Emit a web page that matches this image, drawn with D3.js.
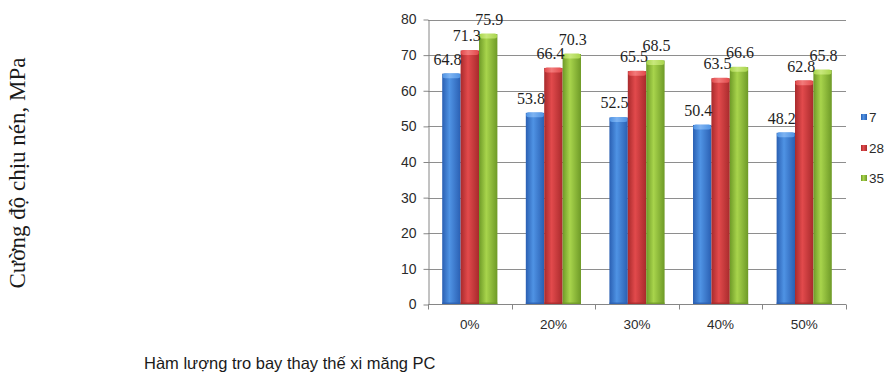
<!DOCTYPE html>
<html>
<head>
<meta charset="utf-8">
<script src="https://cdn.jsdelivr.net/npm/d3@7/dist/d3.min.js"></script>
<style>
  html, body { margin: 0; padding: 0; background: #ffffff; }
  svg { display: block; }
</style>
</head>
<body>
<svg id="chart" width="886" height="376"></svg>
<script>
// Compressive strength of concrete by fly-ash replacement level, at 7, 28 and 35 days
const categories = ["0%", "20%", "30%", "40%", "50%"];
const seriesNames = ["7", "28", "35"];
const day7  = [64.8, 53.8, 52.5, 50.4, 48.2];
const day28 = [71.3, 66.4, 65.5, 63.5, 62.8];
const day35 = [75.9, 70.3, 68.5, 66.6, 65.8];
const yTicks = [0, 10, 20, 30, 40, 50, 60, 70, 80];
const yTitle = "Cường độ chịu nén, MPa";
const xTitle = "Hàm lượng tro bay thay thế xi măng PC";

const seriesValues = [day7, day28, day35];

// Shading for the cylinder-like bars: dark edge, light core, dark edge
const palettes = [
  { edge: "#2a5fb2", mid: "#4f93e4", cap: "#7db3f2", legend: "#3a78cf" },
  { edge: "#a82a2c", mid: "#e24a4c", cap: "#f27a7a", legend: "#c93a3b" },
  { edge: "#6e9a27", mid: "#a8d44c", cap: "#c8e87c", legend: "#8cbb3a" }
];
const labelShift = [-4, -3, 1];

const svg = d3.select("#chart");
const plot = { left: 428, right: 846, top: 19.5, bottom: 304.5 };

const defs = svg.append("defs");
palettes.forEach((p, i) => {
  const g = defs.append("linearGradient").attr("id", "bar" + i)
    .attr("x1", "0%").attr("x2", "100%").attr("y1", "0%").attr("y2", "0%");
  g.append("stop").attr("offset", "0%").attr("stop-color", p.edge);
  g.append("stop").attr("offset", "40%").attr("stop-color", p.mid);
  g.append("stop").attr("offset", "100%").attr("stop-color", p.edge);
  const c = defs.append("linearGradient").attr("id", "cap" + i)
    .attr("x1", "0%").attr("x2", "100%").attr("y1", "0%").attr("y2", "0%");
  c.append("stop").attr("offset", "0%").attr("stop-color", p.mid);
  c.append("stop").attr("offset", "40%").attr("stop-color", p.cap);
  c.append("stop").attr("offset", "100%").attr("stop-color", p.mid);
});

const x0 = d3.scaleBand().domain(categories)
  .range([plot.left, plot.right]).paddingInner(0.34).paddingOuter(0.17);
const x1 = d3.scaleBand().domain(seriesNames).range([0, x0.bandwidth()]);
const xCat = d3.scaleBand().domain(categories).range([plot.left, plot.right]);
const y = d3.scaleLinear().domain([0, 80]).range([plot.bottom, plot.top]);

// Horizontal gridlines
svg.append("g").selectAll("line").data(yTicks.filter(t => t > 0)).join("line")
  .attr("x1", plot.left).attr("x2", plot.right)
  .attr("y1", d => Math.round(y(d)) + 0.5).attr("y2", d => Math.round(y(d)) + 0.5)
  .attr("stroke", "#8e8e8e").attr("stroke-width", 1);

// Y axis
const yAxis = svg.append("g").attr("transform", `translate(${plot.left + 0.5},0)`)
  .call(d3.axisLeft(y).tickValues(yTicks).tickSize(5).tickPadding(7).tickSizeOuter(0));
yAxis.select(".domain").attr("stroke", "#868686");
yAxis.selectAll(".tick line").attr("stroke", "#868686");
yAxis.selectAll(".tick text").attr("font-family", "'Liberation Sans', Arial, sans-serif")
  .attr("font-size", "14px").attr("fill", "#2b2b2b");

// Bars
const groups = svg.append("g").selectAll("g").data(categories).join("g")
  .attr("transform", c => `translate(${x0(c)},0)`);

seriesNames.forEach((s, si) => {
  const vals = seriesValues[si];
  const bx = x1(s), bw = x1.bandwidth();
  groups.append("rect")
    .attr("x", bx).attr("width", bw)
    .attr("y", (c, ci) => y(vals[ci]))
    .attr("height", (c, ci) => y(0) - y(vals[ci]))
    .attr("fill", `url(#bar${si})`);
  // rounded top cap
  groups.append("rect")
    .attr("x", bx + 0.3).attr("width", bw - 0.6)
    .attr("y", (c, ci) => y(vals[ci]) - 0.5)
    .attr("height", 5).attr("rx", 2.5).attr("ry", 2.5)
    .attr("fill", `url(#cap${si})`);
  // darker base
  groups.append("rect")
    .attr("x", bx).attr("width", bw)
    .attr("y", y(0) - 2).attr("height", 2)
    .attr("fill", palettes[si].edge).attr("opacity", 0.8);
});

// Value labels
seriesNames.forEach((s, si) => {
  const vals = seriesValues[si];
  groups.append("text")
    .attr("x", x1(s) + x1.bandwidth() / 2 + labelShift[si])
    .attr("y", (c, ci) => y(vals[ci]) - 9)
    .attr("text-anchor", "middle")
    .attr("font-family", "'Liberation Serif', 'Times New Roman', serif")
    .attr("font-size", "16px").attr("fill", "#1e1e1e")
    .text((c, ci) => vals[ci].toFixed(1));
});

// X axis: line, boundary ticks and centred category labels
svg.append("line")
  .attr("x1", plot.left).attr("x2", plot.right)
  .attr("y1", plot.bottom).attr("y2", plot.bottom)
  .attr("stroke", "#868686");
const bounds = categories.map(c => xCat(c)).concat([plot.right]);
svg.append("g").selectAll("line").data(bounds).join("line")
  .attr("x1", d => Math.round(d) + 0.5).attr("x2", d => Math.round(d) + 0.5)
  .attr("y1", plot.bottom).attr("y2", plot.bottom + 5)
  .attr("stroke", "#868686");
const xAxis = svg.append("g").attr("transform", `translate(0,${plot.bottom})`)
  .call(d3.axisBottom(xCat).tickSize(0).tickPadding(15));
xAxis.select(".domain").remove();
xAxis.selectAll(".tick text").attr("font-family", "'Liberation Sans', Arial, sans-serif")
  .attr("font-size", "13.5px").attr("fill", "#2b2b2b");

// Legend
const legendY = [117, 148, 178];
const legend = svg.append("g");
seriesNames.forEach((s, si) => {
  legend.append("rect")
    .attr("x", 861).attr("y", legendY[si] - 3).attr("width", 6).attr("height", 6)
    .attr("fill", `url(#bar${si})`);
  legend.append("text")
    .attr("x", 869).attr("y", legendY[si] + 5)
    .attr("font-family", "'Liberation Sans', Arial, sans-serif")
    .attr("font-size", "13.5px").attr("fill", "#2b2b2b")
    .text(s);
});

// Axis titles
svg.append("text")
  .attr("transform", "translate(25,173) rotate(-90)")
  .attr("text-anchor", "middle")
  .attr("font-family", "'Liberation Serif', 'Times New Roman', serif")
  .attr("font-size", "23px").attr("fill", "#1a1a1a")
  .text(yTitle);

svg.append("text")
  .attr("x", 144).attr("y", 369)
  .attr("font-family", "'Liberation Sans', Arial, sans-serif")
  .attr("font-size", "16.5px").attr("fill", "#1a1a1a")
  .text(xTitle);
</script>
</body>
</html>
